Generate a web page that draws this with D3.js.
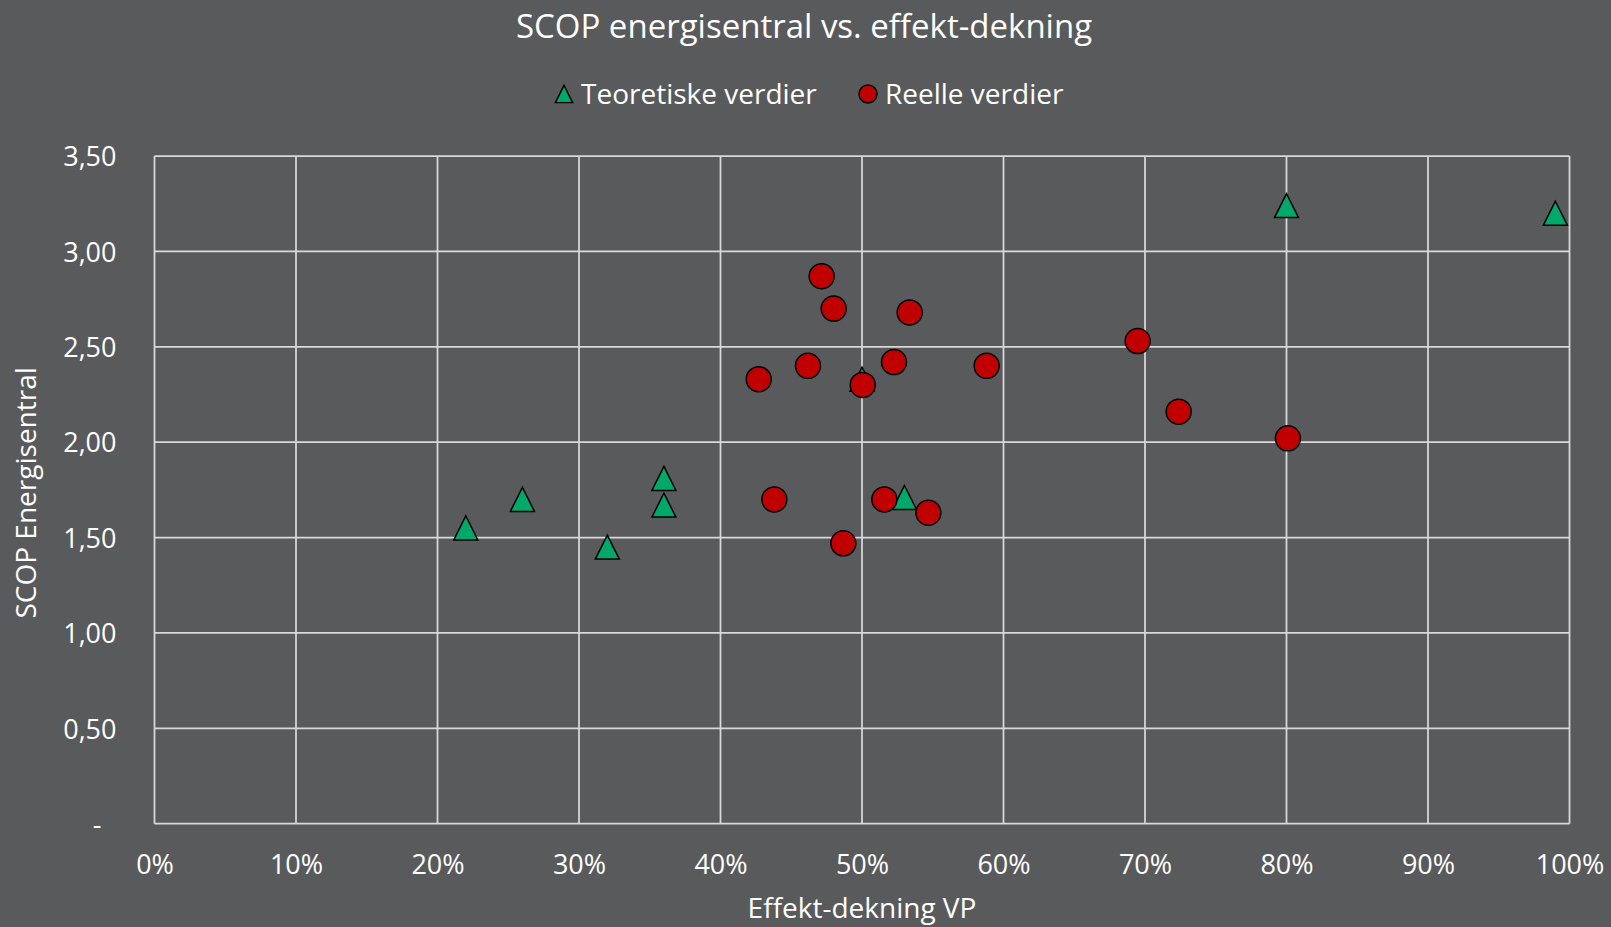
<!DOCTYPE html>
<html>
<head>
<meta charset="utf-8">
<script src="https://cdn.jsdelivr.net/npm/d3@7"></script>
<style>
  html, body { margin: 0; padding: 0; background: #595a5c; }
  svg { display: block; font-family: "Open Sans", sans-serif; }
</style>
</head>
<body>
<div id="plot"></div>
<script>
// teoretiske verdier (triangles)
var teoDekning = [0.22, 0.26, 0.32, 0.36, 0.36, 0.50, 0.53, 0.80, 0.99];
var teoScop    = [1.55, 1.70, 1.45, 1.81, 1.67, 2.33, 1.71, 3.24, 3.20];

// reelle verdier (circles)
var reelDekning = [0.4715, 0.480, 0.5337, 0.427, 0.4618, 0.5005, 0.5226, 0.5881,
                   0.6948, 0.7238, 0.801, 0.438, 0.4868, 0.5158, 0.5469];
var reelScop    = [2.87, 2.70, 2.68, 2.33, 2.40, 2.30, 2.42, 2.40,
                   2.53, 2.16, 2.02, 1.70, 1.47, 1.70, 1.63];

var xTicks = [0, 0.1, 0.2, 0.3, 0.4, 0.5, 0.6, 0.7, 0.8, 0.9, 1.0];
var yTicks = [0, 0.5, 1.0, 1.5, 2.0, 2.5, 3.0, 3.5];
var seriesNames = ["Teoretiske verdier", "Reelle verdier"];

var W = 1611, H = 927;
var margin = { top: 156, right: 41.5, bottom: 103.3, left: 154.5 };
var width = W - margin.left - margin.right,
    height = H - margin.top - margin.bottom;

var textColor = "#ffffff";
var gridColor = "#d9d9d9";
var green = "#00a86b";
var red = "#c00000";
var font = "'Open Sans', sans-serif";

var svg = d3.select("#plot").append("svg")
  .attr("width", W)
  .attr("height", H);

svg.append("rect")
  .attr("width", W)
  .attr("height", H)
  .attr("fill", "#595a5c");

var g = svg.append("g")
  .attr("transform", `translate(${margin.left},${margin.top})`);

var x = d3.scaleLinear().domain([0, 1]).range([0, width]);
var y = d3.scaleLinear().domain([0, 3.5]).range([height, 0]);

// gridlines
g.append("g").selectAll("line.h")
  .data(yTicks)
  .join("line")
  .attr("x1", 0).attr("x2", width)
  .attr("y1", d => y(d)).attr("y2", d => y(d))
  .attr("stroke", gridColor)
  .attr("stroke-width", 1.75);

g.append("g").selectAll("line.v")
  .data(xTicks)
  .join("line")
  .attr("x1", d => x(d)).attr("x2", d => x(d))
  .attr("y1", 0).attr("y2", height)
  .attr("stroke", gridColor)
  .attr("stroke-width", 1.75);

// y axis labels
var fmtY = function (d) {
  if (d === 0) return "-";
  return d.toFixed(2).replace(".", ",");
};
var yAxis = g.append("g")
  .call(d3.axisLeft(y).tickValues(yTicks).tickFormat(fmtY).tickSize(0).tickPadding(38))
  .attr("font-family", font);
yAxis.select(".domain").remove();
yAxis.selectAll("text")
  .attr("fill", textColor)
  .style("font-size", "27px")
  .attr("dx", d => d === 0 ? -15 : 0)
  .attr("dy", "0.36em");

// x axis labels
var xAxis = g.append("g")
  .attr("transform", `translate(0,${height})`)
  .call(d3.axisBottom(x).tickValues(xTicks).tickFormat(d3.format(".0%")).tickSize(0).tickPadding(31))
  .attr("font-family", font);
xAxis.select(".domain").remove();
xAxis.selectAll("text")
  .attr("fill", textColor)
  .style("font-size", "27px")
  .attr("dy", "0.71em");

// markers
var tri = "M0,-12L12,12L-12,12Z";

g.append("g").selectAll("path")
  .data(teoDekning.map((d, i) => ({ x: d, y: teoScop[i] })))
  .join("path")
  .attr("d", tri)
  .attr("transform", d => `translate(${x(d.x)},${y(d.y)})`)
  .attr("fill", green)
  .attr("stroke", "#000")
  .attr("stroke-width", 1.5);

g.append("g").selectAll("circle")
  .data(reelDekning.map((d, i) => ({ x: d, y: reelScop[i] })))
  .join("circle")
  .attr("cx", d => x(d.x))
  .attr("cy", d => y(d.y))
  .attr("r", 12.5)
  .attr("fill", red)
  .attr("stroke", "#000")
  .attr("stroke-width", 1.5);

// title
svg.append("text")
  .attr("x", 804)
  .attr("y", 38)
  .attr("text-anchor", "middle")
  .attr("fill", textColor)
  .style("font-size", "33px")
  .text("SCOP energisentral vs. effekt-dekning");

// legend
var legend = svg.append("g");
legend.append("path")
  .attr("d", tri)
  .attr("transform", "translate(564,94) scale(0.72)")
  .attr("fill", green)
  .attr("stroke", "#000")
  .attr("stroke-width", 2);
legend.append("text")
  .attr("x", 581)
  .attr("y", 104)
  .attr("fill", textColor)
  .style("font-size", "28px")
  .text(seriesNames[0]);
legend.append("circle")
  .attr("cx", 868)
  .attr("cy", 94)
  .attr("r", 9)
  .attr("fill", red)
  .attr("stroke", "#000")
  .attr("stroke-width", 1.5);
legend.append("text")
  .attr("x", 885)
  .attr("y", 104)
  .attr("fill", textColor)
  .style("font-size", "28px")
  .text(seriesNames[1]);

// axis titles
svg.append("text")
  .attr("x", margin.left + width / 2)
  .attr("y", 918)
  .attr("text-anchor", "middle")
  .attr("fill", textColor)
  .style("font-size", "28px")
  .text("Effekt-dekning VP");

svg.append("text")
  .attr("transform", `translate(36,${margin.top + height / 2 + 3}) rotate(-90)`)
  .attr("text-anchor", "middle")
  .attr("fill", textColor)
  .style("font-size", "28px")
  .text("SCOP Energisentral");
</script>
</body>
</html>
